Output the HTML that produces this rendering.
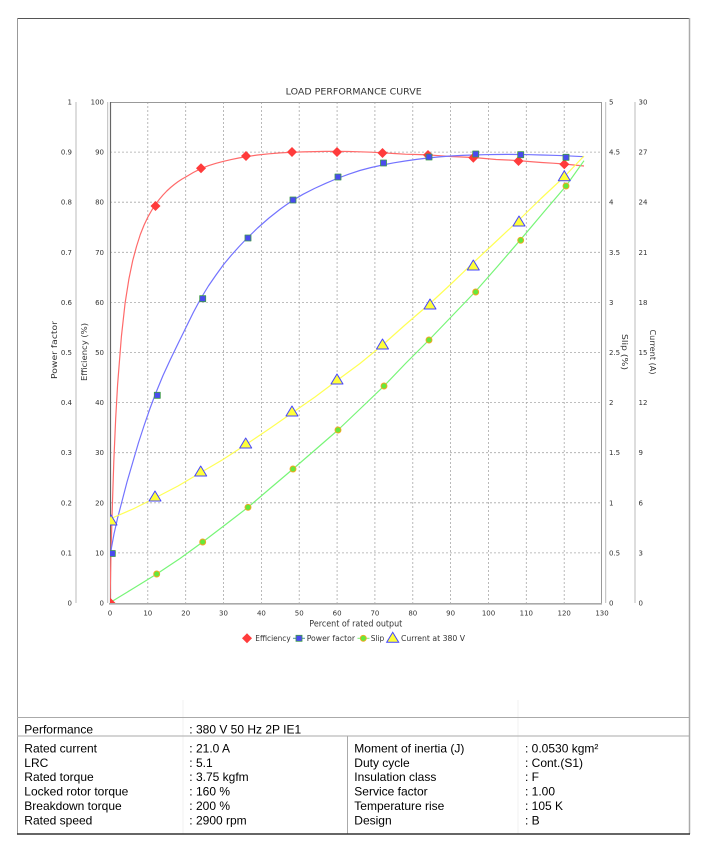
<!DOCTYPE html>
<html><head><meta charset="utf-8"><style>
html,body{margin:0;padding:0;background:#fff;}
svg{display:block;}
.t{font-family:"DejaVu Sans","Liberation Sans",sans-serif;fill:#333;}
.tb{font-family:"Liberation Sans",Arial,sans-serif;font-size:12px;fill:#000;}
</style></head><body>
<svg width="708" height="849" viewBox="0 0 708 849" xmlns="http://www.w3.org/2000/svg">
<defs><clipPath id="pc"><rect x="110" y="102" width="492" height="501"/></clipPath></defs>
<rect width="708" height="849" fill="#fff"/>
<!-- outer frame -->
<line x1="17" y1="18.5" x2="690" y2="18.5" stroke="#555" stroke-width="1"/>
<line x1="17.5" y1="18" x2="17.5" y2="834" stroke="#999" stroke-width="1"/>
<line x1="689.5" y1="18" x2="689.5" y2="834" stroke="#aaa" stroke-width="1.5"/>

<!-- title -->
<text class="t" x="353.7" y="94.5" font-size="9" text-anchor="middle" textLength="136" lengthAdjust="spacingAndGlyphs" fill="#111">LOAD PERFORMANCE CURVE</text>

<!-- grid -->
<g stroke="#a8a8a8" stroke-width="0.8" stroke-dasharray="2,2">
<line x1="110" y1="552.9" x2="602" y2="552.9"/><line x1="110" y1="502.8" x2="602" y2="502.8"/>
<line x1="110" y1="452.7" x2="602" y2="452.7"/><line x1="110" y1="402.6" x2="602" y2="402.6"/>
<line x1="110" y1="352.5" x2="602" y2="352.5"/><line x1="110" y1="302.4" x2="602" y2="302.4"/>
<line x1="110" y1="252.3" x2="602" y2="252.3"/><line x1="110" y1="202.2" x2="602" y2="202.2"/>
<line x1="110" y1="152.1" x2="602" y2="152.1"/>
<line x1="147.8" y1="102" x2="147.8" y2="603"/><line x1="185.7" y1="102" x2="185.7" y2="603"/>
<line x1="223.5" y1="102" x2="223.5" y2="603"/><line x1="261.4" y1="102" x2="261.4" y2="603"/>
<line x1="299.2" y1="102" x2="299.2" y2="603"/><line x1="337.1" y1="102" x2="337.1" y2="603"/>
<line x1="374.9" y1="102" x2="374.9" y2="603"/><line x1="412.8" y1="102" x2="412.8" y2="603"/>
<line x1="450.6" y1="102" x2="450.6" y2="603"/><line x1="488.5" y1="102" x2="488.5" y2="603"/>
<line x1="526.3" y1="102" x2="526.3" y2="603"/><line x1="564.2" y1="102" x2="564.2" y2="603"/>
</g>
<!-- plot border -->
<line x1="110" y1="102.5" x2="602" y2="102.5" stroke="#999" stroke-width="1"/>
<line x1="601.5" y1="102" x2="601.5" y2="603" stroke="#999" stroke-width="1"/>
<line x1="110.5" y1="102" x2="110.5" y2="604" stroke="#666" stroke-width="1.2"/>
<line x1="109" y1="603.8" x2="602" y2="603.8" stroke="#aaa" stroke-width="1.6"/>
<!-- axis lines -->
<line x1="76" y1="102" x2="76" y2="603" stroke="#bbb" stroke-width="1"/>
<line x1="107.7" y1="102" x2="107.7" y2="603" stroke="#bbb" stroke-width="1"/>
<line x1="605.7" y1="102" x2="605.7" y2="603" stroke="#bbb" stroke-width="1"/>
<line x1="635" y1="102" x2="635" y2="603" stroke="#bbb" stroke-width="1"/>

<!-- left PF labels -->
<g class="t" font-size="7" text-anchor="end">
<text x="72" y="605.5">0</text><text x="72" y="555.4">0.1</text><text x="72" y="505.3">0.2</text>
<text x="72" y="455.2">0.3</text><text x="72" y="405.1">0.4</text><text x="72" y="355">0.5</text>
<text x="72" y="304.9">0.6</text><text x="72" y="254.8">0.7</text><text x="72" y="204.7">0.8</text>
<text x="72" y="154.6">0.9</text><text x="72" y="104.5">1</text>
</g>
<g class="t" font-size="7" text-anchor="end">
<text x="104" y="605.5">0</text><text x="104" y="555.4">10</text><text x="104" y="505.3">20</text>
<text x="104" y="455.2">30</text><text x="104" y="405.1">40</text><text x="104" y="355">50</text>
<text x="104" y="304.9">60</text><text x="104" y="254.8">70</text><text x="104" y="204.7">80</text>
<text x="104" y="154.6">90</text><text x="104" y="104.5">100</text>
</g>
<g class="t" font-size="7">
<text x="609" y="605.5">0</text><text x="609" y="555.4">0.5</text><text x="609" y="505.3">1</text>
<text x="609" y="455.2">1.5</text><text x="609" y="405.1">2</text><text x="609" y="355">2.5</text>
<text x="609" y="304.9">3</text><text x="609" y="254.8">3.5</text><text x="609" y="204.7">4</text>
<text x="609" y="154.6">4.5</text><text x="609" y="104.5">5</text>
</g>
<g class="t" font-size="7">
<text x="638.5" y="605.5">0</text><text x="638.5" y="555.4">3</text><text x="638.5" y="505.3">6</text>
<text x="638.5" y="455.2">9</text><text x="638.5" y="405.1">12</text><text x="638.5" y="355">15</text>
<text x="638.5" y="304.9">18</text><text x="638.5" y="254.8">21</text><text x="638.5" y="204.7">24</text>
<text x="638.5" y="154.6">27</text><text x="638.5" y="104.5">30</text>
</g>
<!-- x labels -->
<g class="t" font-size="7" text-anchor="middle">
<text x="110" y="615.5">0</text><text x="147.8" y="615.5">10</text><text x="185.7" y="615.5">20</text>
<text x="223.5" y="615.5">30</text><text x="261.4" y="615.5">40</text><text x="299.2" y="615.5">50</text>
<text x="337.1" y="615.5">60</text><text x="374.9" y="615.5">70</text><text x="412.8" y="615.5">80</text>
<text x="450.6" y="615.5">90</text><text x="488.5" y="615.5">100</text><text x="526.3" y="615.5">110</text>
<text x="564.2" y="615.5">120</text><text x="602" y="615.5">130</text>
</g>
<text class="t" x="355.8" y="626.5" font-size="8.5" text-anchor="middle" textLength="93" lengthAdjust="spacingAndGlyphs">Percent of rated output</text>

<!-- axis titles -->
<text class="t" font-size="8" text-anchor="middle" transform="translate(57,350) rotate(-90)" textLength="58" lengthAdjust="spacingAndGlyphs">Power factor</text>
<text class="t" font-size="8" text-anchor="middle" transform="translate(87,352) rotate(-90)" textLength="58" lengthAdjust="spacingAndGlyphs">Efficiency (%)</text>
<text class="t" font-size="8" text-anchor="middle" transform="translate(622,352) rotate(90)" textLength="36" lengthAdjust="spacingAndGlyphs">Slip (%)</text>
<text class="t" font-size="8" text-anchor="middle" transform="translate(650,352) rotate(90)" textLength="45" lengthAdjust="spacingAndGlyphs">Current (A)</text>

<g clip-path="url(#pc)" fill="none" stroke-width="1.2" stroke-linejoin="round">
<!-- efficiency -->
<polyline stroke="#ff6a6a" points="110,603 110.9,557.6 111.9,520.1 113.8,461.7 115.7,418.1 117.6,384.6 121.4,336.5 125.1,303.1 128.9,279 132.7,260.6 136.5,246.5 140.3,234.5 144.1,225 147.9,217 151.7,210.3 155.4,204.5 159.2,199.5 163,195 166.8,191 170.6,187.5 174.4,184.4 178.1,181.6 181.9,179.1 185.7,177 193.3,172.5 200.8,168.7 208.4,165.7 216,163.3 223.6,161.3 231.1,159.6 238.7,158 246.3,156.7 257.6,155 269,153.8 280.4,152.9 291.7,152.3 303,151.9 314.4,151.6 325.8,151.4 337.1,151.4 348.4,151.5 359.8,151.8 371.2,152.2 382.5,152.8 393.9,153.5 405.2,154.2 416.6,154.5 427.9,154.9 439.3,155.7 450.7,156.5 462,157 473.4,157.5 484.8,158.5 496.1,159.5 507.5,160 518.8,160.6 530.2,161.6 541.5,162.5 552.9,163.2 564.2,164 574,165 584,166"/>
<!-- power factor -->
<polyline stroke="#7373ff" points="110.5,552.9 114,534 117.6,518 121.4,503.5 127,482 132.7,462.5 138.4,443 144.1,425.5 149.8,409 155.4,394 163,375.5 170.6,359 178.1,343.5 185.7,328 193.3,312.5 200.8,298.5 208.4,286 216,275 223.6,264.5 231.1,255.5 238.7,247 246.3,239 257.6,228 269,218 280.4,209 291.7,201 303,194.3 314.4,188.5 325.8,183.3 337.1,178.5 348.4,174.3 359.8,170.5 371.2,167.5 382.5,165 393.9,162.8 405.2,161 416.6,159.4 427.9,158 439.3,156.9 450.7,156 462,155.4 473.4,155 484.8,154.7 496.1,154.5 507.5,154.4 518.8,154.5 530.2,154.7 541.5,155 552.9,155.3 564.2,155.7 574,156.2 584,156.7"/>
<!-- slip -->
<polyline stroke="#77f577" points="111,602 134,588 156.7,574 180,558.5 202.7,542 225,525 248,507.3 270,488.5 293,469 315,450 338,430 360,409 384,386 406,363 429,340 452,316 475,292 497,267 520,240.3 543,213 566,186 584,160.7"/>
<!-- current -->
<polyline stroke="#ffff55" points="111,518.5 133,509 155,498 178,486 200,473 223,459.5 246,444.5 269,429 292,413 315,397 337,380.5 360,363.5 382,345.5 405,325 430,303.5 451,284 473,263 496,241.5 519,220 541,198.5 564,177 584,156"/>

<!-- efficiency markers -->
<g fill="#ff3b3b" stroke="none">
<polygon points="110.5,598 115.5,603 110.5,608 105.5,603"/>
<polygon points="155.5,201 160.5,206 155.5,211 150.5,206"/>
<polygon points="201,163.3 206,168.3 201,173.3 196,168.3"/>
<polygon points="246,151 251,156 246,161 241,156"/>
<polygon points="292,147 297,152 292,157 287,152"/>
<polygon points="337,147 342,152 337,157 332,152"/>
<polygon points="382.5,148 387.5,153 382.5,158 377.5,153"/>
<polygon points="428,150 433,155 428,160 423,155"/>
<polygon points="473.3,152.7 478.3,157.7 473.3,162.7 468.3,157.7"/>
<polygon points="518.5,156 523.5,161 518.5,166 513.5,161"/>
<polygon points="564.3,159.3 569.3,164.3 564.3,169.3 559.3,164.3"/>
</g>
<!-- PF markers -->
<g fill="#4a4aef" stroke="#3f9a4a" stroke-width="0.8">
<rect x="109.3" y="550.5" width="6" height="6"/>
<rect x="154.3" y="392.3" width="6" height="6"/>
<rect x="199.7" y="295.7" width="6" height="6"/>
<rect x="245" y="235" width="6" height="6"/>
<rect x="290" y="197" width="6" height="6"/>
<rect x="335" y="174" width="6" height="6"/>
<rect x="380.5" y="160" width="6" height="6"/>
<rect x="426" y="154" width="6" height="6"/>
<rect x="472.7" y="151" width="6" height="6"/>
<rect x="517.7" y="151.7" width="6" height="6"/>
<rect x="563" y="154.3" width="6" height="6"/>
</g>
<!-- slip markers -->
<g fill="#66e83a" stroke="#f5a623" stroke-width="0.9">
<circle cx="156.7" cy="574" r="3"/><circle cx="202.7" cy="542" r="3"/>
<circle cx="248" cy="507.3" r="3"/><circle cx="293" cy="469" r="3"/>
<circle cx="338" cy="430" r="3"/><circle cx="384" cy="386" r="3"/>
<circle cx="429" cy="340" r="3"/><circle cx="475.7" cy="292" r="3"/>
<circle cx="520.7" cy="240.3" r="3"/><circle cx="566" cy="186" r="3"/>
</g>
<!-- current markers -->
<g fill="#ffff3a" stroke="#4444ff" stroke-width="1">
<polygon points="111,515 117,525 105,525"/>
<polygon points="155,491 161,501 149,501"/>
<polygon points="200.7,466 206.7,476 194.7,476"/>
<polygon points="245.7,438 251.7,448 239.7,448"/>
<polygon points="292,406 298,416 286,416"/>
<polygon points="337,374 343,384 331,384"/>
<polygon points="382.5,339 388.5,349 376.5,349"/>
<polygon points="430,299 436,309 424,309"/>
<polygon points="473.3,260 479.3,270 467.3,270"/>
<polygon points="519,216 525,226 513,226"/>
<polygon points="564.3,170.7 570.3,180.7 558.3,180.7"/>
</g>
</g>

<!-- legend -->
<polygon points="247,633.3 252,638.3 247,643.3 242,638.3" fill="#ff3b3b"/>
<text class="t" x="255.3" y="641" font-size="8" textLength="35.4" lengthAdjust="spacingAndGlyphs">Efficiency</text>
<line x1="293" y1="638.3" x2="305" y2="638.3" stroke="#4a8fa0" stroke-width="1"/>
<rect x="296" y="635.3" width="6" height="6" fill="#4a4aef" stroke="#3f9a4a" stroke-width="0.8"/>
<text class="t" x="306.7" y="641" font-size="8" textLength="48.3" lengthAdjust="spacingAndGlyphs">Power factor</text>
<line x1="357.5" y1="638.3" x2="369.5" y2="638.3" stroke="#77f577" stroke-width="1"/>
<circle cx="363.3" cy="638.3" r="3" fill="#66e83a" stroke="#f5a623" stroke-width="0.9"/>
<text class="t" x="370.7" y="641" font-size="8" textLength="13.6" lengthAdjust="spacingAndGlyphs">Slip</text>
<polygon points="392.7,632.3 398.7,642.3 386.7,642.3" fill="#ffff3a" stroke="#4444ff" stroke-width="1"/>
<text class="t" x="401" y="641" font-size="8" textLength="64" lengthAdjust="spacingAndGlyphs">Current at 380 V</text>

<!-- table -->
<line x1="183" y1="700" x2="183" y2="834" stroke="#f0f0f0" stroke-width="1"/>
<line x1="518" y1="700" x2="518" y2="834" stroke="#f0f0f0" stroke-width="1"/>
<line x1="17" y1="717.5" x2="690" y2="717.5" stroke="#aaa" stroke-width="1"/>
<line x1="17" y1="736" x2="690" y2="736" stroke="#aaa" stroke-width="1"/>
<line x1="347.5" y1="736" x2="347.5" y2="834" stroke="#aaa" stroke-width="1"/>
<line x1="17" y1="834" x2="690" y2="834" stroke="#333" stroke-width="1.5"/>

<g class="tb">
<text x="24.3" y="733.3">Performance</text>
<text x="189.3" y="733.3">: 380 V 50 Hz 2P IE1</text>
<text x="24.3" y="752.7">Rated current</text>
<text x="24.3" y="766.9">LRC</text>
<text x="24.3" y="781.2">Rated torque</text>
<text x="24.3" y="795.6">Locked rotor torque</text>
<text x="24.3" y="810">Breakdown torque</text>
<text x="24.3" y="824.5">Rated speed</text>
<text x="189.3" y="752.7">: 21.0 A</text>
<text x="189.3" y="766.9">: 5.1</text>
<text x="189.3" y="781.2">: 3.75 kgfm</text>
<text x="189.3" y="795.6">: 160 %</text>
<text x="189.3" y="810">: 200 %</text>
<text x="189.3" y="824.5">: 2900 rpm</text>
<text x="354.3" y="752.7">Moment of inertia (J)</text>
<text x="354.3" y="766.9">Duty cycle</text>
<text x="354.3" y="781.2">Insulation class</text>
<text x="354.3" y="795.6">Service factor</text>
<text x="354.3" y="810">Temperature rise</text>
<text x="354.3" y="824.5">Design</text>
<text x="525" y="752.7">: 0.0530 kgm²</text>
<text x="525" y="766.9">: Cont.(S1)</text>
<text x="525" y="781.2">: F</text>
<text x="525" y="795.6">: 1.00</text>
<text x="525" y="810">: 105 K</text>
<text x="525" y="824.5">: B</text>
</g>
</svg>
</body></html>
